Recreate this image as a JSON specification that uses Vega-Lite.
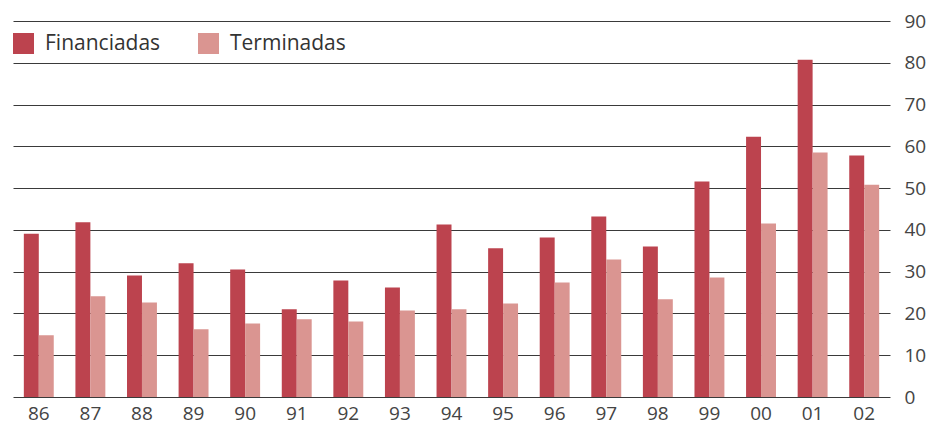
{
  "$schema": "https://vega.github.io/schema/vega-lite/v6.json",
  "width": 877,
  "height": 376,
  "autosize": "none",
  "padding": {"left": 13, "top": 21, "right": 37, "bottom": 28},
  "background": "white",
  "config": {
    "view": {"stroke": null},
    "font": "Open Sans"
  },
  "data": {
    "values": [
      {"anio": "86", "serie": "Financiadas", "valor": 39.1},
      {"anio": "86", "serie": "Terminadas", "valor": 14.8},
      {"anio": "87", "serie": "Financiadas", "valor": 41.8},
      {"anio": "87", "serie": "Terminadas", "valor": 24.1},
      {"anio": "88", "serie": "Financiadas", "valor": 29.1},
      {"anio": "88", "serie": "Terminadas", "valor": 22.6},
      {"anio": "89", "serie": "Financiadas", "valor": 32.0},
      {"anio": "89", "serie": "Terminadas", "valor": 16.2},
      {"anio": "90", "serie": "Financiadas", "valor": 30.5},
      {"anio": "90", "serie": "Terminadas", "valor": 17.6},
      {"anio": "91", "serie": "Financiadas", "valor": 21.0},
      {"anio": "91", "serie": "Terminadas", "valor": 18.6},
      {"anio": "92", "serie": "Financiadas", "valor": 27.9},
      {"anio": "92", "serie": "Terminadas", "valor": 18.1},
      {"anio": "93", "serie": "Financiadas", "valor": 26.2},
      {"anio": "93", "serie": "Terminadas", "valor": 20.7},
      {"anio": "94", "serie": "Financiadas", "valor": 41.3},
      {"anio": "94", "serie": "Terminadas", "valor": 21.0},
      {"anio": "95", "serie": "Financiadas", "valor": 35.6},
      {"anio": "95", "serie": "Terminadas", "valor": 22.4},
      {"anio": "96", "serie": "Financiadas", "valor": 38.2},
      {"anio": "96", "serie": "Terminadas", "valor": 27.4},
      {"anio": "97", "serie": "Financiadas", "valor": 43.2},
      {"anio": "97", "serie": "Terminadas", "valor": 32.9},
      {"anio": "98", "serie": "Financiadas", "valor": 36.0},
      {"anio": "98", "serie": "Terminadas", "valor": 23.4},
      {"anio": "99", "serie": "Financiadas", "valor": 51.6},
      {"anio": "99", "serie": "Terminadas", "valor": 28.6},
      {"anio": "00", "serie": "Financiadas", "valor": 62.3},
      {"anio": "00", "serie": "Terminadas", "valor": 41.5},
      {"anio": "01", "serie": "Financiadas", "valor": 80.7},
      {"anio": "01", "serie": "Terminadas", "valor": 58.5},
      {"anio": "02", "serie": "Financiadas", "valor": 57.8},
      {"anio": "02", "serie": "Terminadas", "valor": 50.8}
    ]
  },
  "mark": {"type": "bar"},
  "encoding": {
    "x": {
      "field": "anio",
      "type": "nominal",
      "sort": null,
      "scale": {"paddingInner": 0.42, "paddingOuter": 0.21},
      "axis": {
        "title": null,
        "labelAngle": 0,
        "ticks": false,
        "domain": false,
        "grid": false,
        "labelFontSize": 19,
        "labelColor": "#444444",
        "labelPadding": 7,
        "labelFont": "Open Sans"
      }
    },
    "xOffset": {"field": "serie", "type": "nominal", "sort": ["Financiadas", "Terminadas"], "scale": {"paddingInner": 0, "paddingOuter": 0}},
    "y": {
      "field": "valor",
      "type": "quantitative",
      "scale": {"domain": [0, 90], "nice": false},
      "axis": {
        "orient": "right",
        "title": null,
        "values": [0, 10, 20, 30, 40, 50, 60, 70, 80, 90],
        "ticks": false,
        "domain": false,
        "grid": true,
        "gridColor": "#3a3a3a",
        "gridWidth": 1,
        "gridOpacity": 1,
        "labelFontSize": 19,
        "labelColor": "#444444",
        "labelPadding": 14,
        "labelFont": "Open Sans"
      }
    },
    "color": {
      "field": "serie",
      "type": "nominal",
      "sort": ["Financiadas", "Terminadas"],
      "scale": {"domain": ["Financiadas", "Terminadas"], "range": ["#bc434e", "#da9591"]},
      "legend": {
        "title": null,
        "orient": "none",
        "legendX": 0,
        "legendY": 12,
        "direction": "horizontal",
        "symbolType": "square",
        "symbolSize": 441,
        "symbolStrokeWidth": 0,
        "symbolOpacity": 1,
        "labelFontSize": 21,
        "labelColor": "#333333",
        "labelFont": "Open Sans",
        "labelOffset": 11,
        "columnPadding": 37
      }
    }
  }
}
